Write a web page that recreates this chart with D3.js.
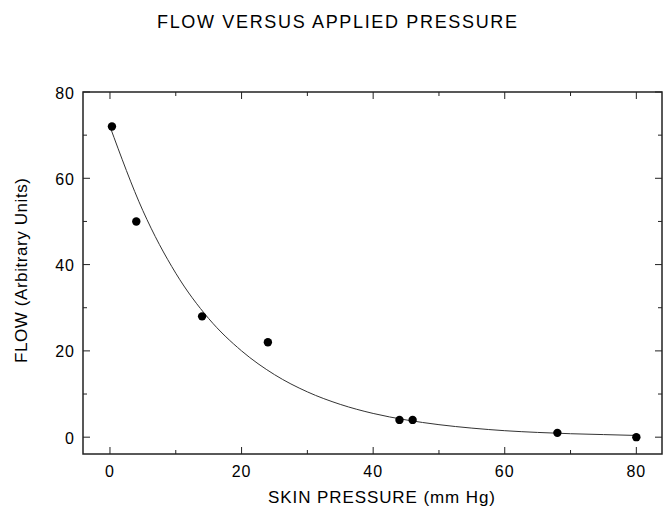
<!DOCTYPE html>
<html>
<head>
<meta charset="utf-8">
<script src="https://cdn.jsdelivr.net/npm/d3@7"></script>
<style>
  body { margin: 0; background: #fff; }
  text { font-family: "Liberation Sans", Arial, Helvetica, sans-serif; fill: #000; }
</style>
</head>
<body>
<div id="chart"></div>
<script>
// measured points
const pressure = [0.3, 4, 14, 24, 44, 46, 68, 80]
const flow = [72, 50, 28, 22, 4, 4, 1, 0]

// fitted curve
const curveX = [0, 5, 10, 15, 20, 25, 30, 35, 40, 45, 50, 55, 60, 65, 70, 75, 80]
const curveY = [72, 52.5, 38, 27.5, 20, 14.5, 10.5, 7.6, 5.5, 4, 2.9, 2.1, 1.5, 1.1, 0.8, 0.6, 0.4]

const xTicks = [0, 20, 40, 60, 80]
const xMinor = [10, 30, 50, 70]
const yTicks = [0, 20, 40, 60, 80]
const yMinor = [10, 30, 50, 70]

const W = 663
const H = 508
const margin = { top: 92, right: 1, bottom: 54, left: 83 }
const width = W - margin.left - margin.right
const height = H - margin.top - margin.bottom

const svg = d3.select('#chart')
  .append('svg')
  .attr('width', W)
  .attr('height', H)

const g = svg.append('g')
  .attr('transform', 'translate(' + margin.left + ',' + margin.top + ')')

const x = d3.scaleLinear().domain([-4.1, 83.9]).range([0, width])
const y = d3.scaleLinear().domain([-3.9, 80]).range([height, 0])

// frame
g.append('rect')
  .attr('width', width)
  .attr('height', height)
  .attr('fill', 'none')
  .attr('stroke', '#222')
  .attr('stroke-width', 1.5)

// inward ticks, all four sides
const major = 7
const minor = 4
const tickG = g.append('g').attr('stroke', '#222').attr('stroke-width', 1)

xTicks.forEach(v => {
  tickG.append('line').attr('x1', x(v)).attr('x2', x(v)).attr('y1', height).attr('y2', height - major)
  tickG.append('line').attr('x1', x(v)).attr('x2', x(v)).attr('y1', 0).attr('y2', major)
})
xMinor.forEach(v => {
  tickG.append('line').attr('x1', x(v)).attr('x2', x(v)).attr('y1', height).attr('y2', height - minor)
  tickG.append('line').attr('x1', x(v)).attr('x2', x(v)).attr('y1', 0).attr('y2', minor)
})
yTicks.forEach(v => {
  tickG.append('line').attr('y1', y(v)).attr('y2', y(v)).attr('x1', 0).attr('x2', major)
  tickG.append('line').attr('y1', y(v)).attr('y2', y(v)).attr('x1', width).attr('x2', width - major)
})
yMinor.forEach(v => {
  tickG.append('line').attr('y1', y(v)).attr('y2', y(v)).attr('x1', 0).attr('x2', minor)
  tickG.append('line').attr('y1', y(v)).attr('y2', y(v)).attr('x1', width).attr('x2', width - minor)
})

// tick labels
g.selectAll('.xlab')
  .data(xTicks)
  .enter()
  .append('text')
  .attr('x', d => x(d))
  .attr('y', height + 23)
  .attr('text-anchor', 'middle')
  .attr('font-size', 16)
  .attr('letter-spacing', 1)
  .text(d => d)

g.selectAll('.ylab')
  .data(yTicks)
  .enter()
  .append('text')
  .attr('x', -8)
  .attr('y', d => y(d) + 6.5)
  .attr('text-anchor', 'end')
  .attr('font-size', 16)
  .attr('letter-spacing', 1)
  .text(d => d)

// fitted curve
const line = d3.line()
  .x((d, i) => x(curveX[i]))
  .y(d => y(d))
  .curve(d3.curveMonotoneX)

g.append('path')
  .datum(curveY)
  .attr('d', line)
  .attr('fill', 'none')
  .attr('stroke', '#333')
  .attr('stroke-width', 1)

// points
g.selectAll('circle')
  .data(flow)
  .enter()
  .append('circle')
  .attr('cx', (d, i) => x(pressure[i]))
  .attr('cy', d => y(d))
  .attr('r', 4.2)
  .attr('fill', '#000')

// titles
svg.append('text')
  .attr('x', 337)
  .attr('y', 28)
  .attr('text-anchor', 'middle')
  .attr('font-size', 18)
  .attr('textLength', 360)
  .attr('lengthAdjust', 'spacing')
  .text('FLOW VERSUS APPLIED PRESSURE')

svg.append('text')
  .attr('x', 381.5)
  .attr('y', 503)
  .attr('text-anchor', 'middle')
  .attr('font-size', 17)
  .attr('textLength', 227)
  .attr('lengthAdjust', 'spacing')
  .text('SKIN PRESSURE (mm Hg)')

svg.append('text')
  .attr('transform', 'translate(27,270.5) rotate(-90)')
  .attr('text-anchor', 'middle')
  .attr('font-size', 17)
  .attr('textLength', 185)
  .attr('lengthAdjust', 'spacing')
  .text('FLOW (Arbitrary Units)')
</script>
</body>
</html>
